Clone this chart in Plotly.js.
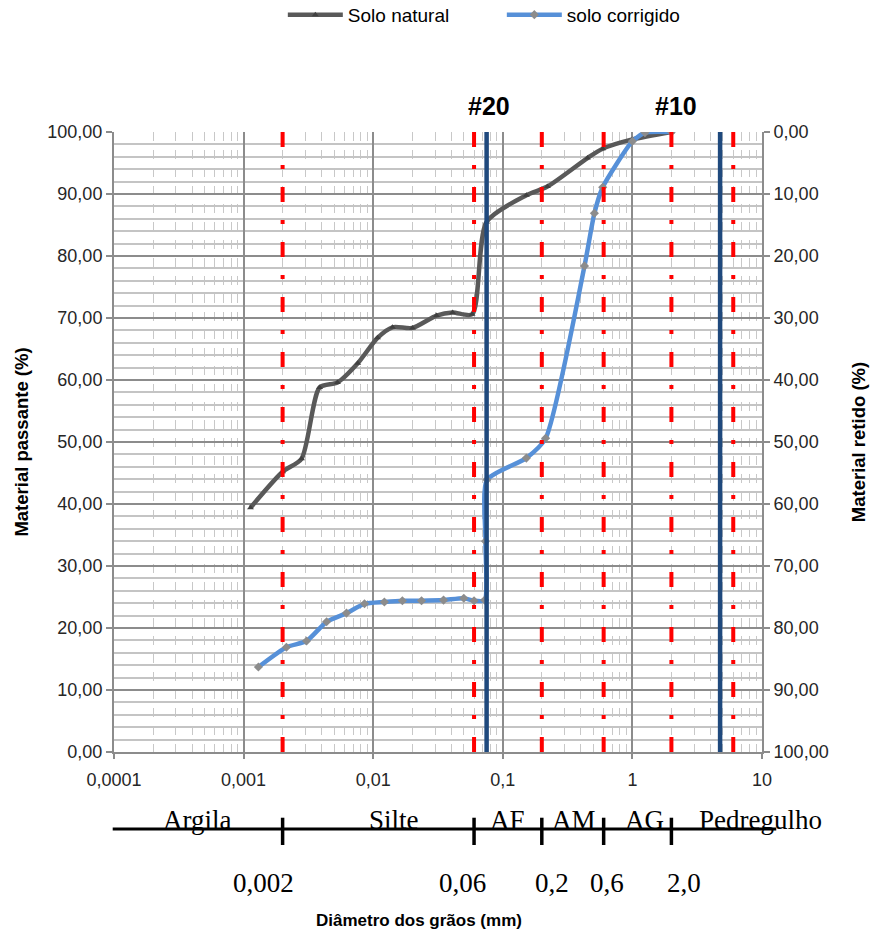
<!DOCTYPE html>
<html>
<head>
<meta charset="utf-8">
<script src="https://cdn.plot.ly/plotly-3.0.1.min.js"></script>
<style>
html,body{margin:0;padding:0;background:#fff;}
#chart{width:876px;height:934px;}
</style>
</head>
<body>
<div id="chart"></div>
<script>
// ---- data ----
const natX = [0.00113, 0.002, 0.0028, 0.00386, 0.0053, 0.0076, 0.0108, 0.0141, 0.0201, 0.0308, 0.041, 0.058, 0.075, 0.152, 0.221, 0.45, 0.59, 1.0, 2.0];
const natY = [39.4, 45.2, 47.3, 58.8, 59.6, 62.7, 66.8, 68.5, 68.4, 70.4, 70.9, 70.6, 85.5, 89.8, 91.2, 95.8, 97.3, 98.8, 100.0];

const corX = [0.0013, 0.00214, 0.00306, 0.00437, 0.00622, 0.00857, 0.0122, 0.0168, 0.0236, 0.0349, 0.050, 0.060, 0.0725, 0.0735, 0.0755, 0.152, 0.214, 0.427, 0.509, 0.59, 1.0, 1.25, 2.0];
const corY = [13.7, 16.9, 17.9, 21.0, 22.4, 23.9, 24.2, 24.4, 24.4, 24.5, 24.8, 24.4, 24.5, 34.0, 43.9, 47.4, 50.6, 78.4, 86.9, 91.1, 98.5, 99.9, 100.0];

const seriesNames = ["Solo natural", "solo corrigido"];

const xTickVals = [0.0001, 0.001, 0.01, 0.1, 1, 10];
const xTickText = ["0,0001", "0,001", "0,01", "0,1", "1", "10"];

const classBounds = [0.002, 0.06, 0.2, 0.6, 2.0];
const classBoundText = ["0,002", "0,06", "0,2", "0,6", "2,0"];
const redLines = [0.002, 0.06, 0.2, 0.6, 2.0, 6.0];
const sieveLines = [0.075, 4.75];
const sieveLabelX = [0.075, 2.0];
const sieveLabels = ["#20", "#10"];
const classNames = ["Argila", "Silte", "AF", "AM", "AG", "Pedregulho"];

// ---- layout helpers (positions only) ----
const classLabelLogX = [-3.356, -1.836, -0.964, -0.447, 0.093, 0.988];
const boundTextShift = [-19, -12, 10, 3, 13];

const minorX = [];
for (let e = -4; e < 1; e++) for (let d = 2; d <= 9; d++) minorX.push(d * Math.pow(10, e));

const traces = [
  {
    x: natX, y: natY, name: seriesNames[0], type: 'scatter', mode: 'lines+markers',
    line: {color: '#595959', width: 4.5, shape: 'spline', smoothing: 0.7},
    marker: {symbol: 'triangle-up', size: 6, color: '#404040'}
  },
  {
    x: corX, y: corY, name: seriesNames[1], type: 'scatter', mode: 'lines+markers',
    line: {color: '#5690D8', width: 4.5, shape: 'spline', smoothing: 0.6},
    marker: {symbol: 'diamond', size: 7, color: '#8c8c8c'}
  },
  {x: [null], y: [null], yaxis: 'y2', showlegend: false, hoverinfo: 'skip', mode: 'lines'}
];

const shapes = [];
redLines.forEach(v => shapes.push({
  type: 'line', xref: 'x', yref: 'y', x0: v, x1: v, y0: 100, y1: 0,
  line: {color: '#ff0000', width: 4, dash: '15px,18px,4px,18px'}, layer: 'above'
}));
sieveLines.forEach(v => shapes.push({
  type: 'line', xref: 'x', yref: 'y', x0: v, x1: v, y0: 0, y1: 100,
  line: {color: '#1F497D', width: 4.5}, layer: 'above'
}));
// classification bar
shapes.push({type: 'line', xref: 'paper', yref: 'paper', x0: -0.002, x1: 1.022, y0: -0.124, y1: -0.124,
  line: {color: '#000', width: 3}});
classBounds.forEach(v => shapes.push({
  type: 'line', xref: 'x', yref: 'paper', x0: v, x1: v, y0: -0.106, y1: -0.150,
  line: {color: '#000', width: 3.5}
}));

const annotations = [];
sieveLabels.forEach((t, i) => annotations.push({
  text: '<b>' + t + '</b>', xref: 'x', yref: 'paper', x: Math.log10(sieveLabelX[i]), y: 1.042,
  xshift: i === 1 ? 5 : 2, showarrow: false, yanchor: 'middle',
  font: {family: 'Liberation Sans, Arial, sans-serif', size: 25, color: '#000'}
}));
classNames.forEach((t, i) => annotations.push({
  text: t, xref: 'x', yref: 'paper', x: classLabelLogX[i], y: -0.11, showarrow: false,
  yanchor: 'middle', font: {family: 'Liberation Serif, Times New Roman, serif', size: 27, color: '#000'}
}));
classBoundText.forEach((t, i) => annotations.push({
  text: t, xref: 'x', yref: 'paper', x: Math.log10(classBounds[i]), y: -0.211, xshift: boundTextShift[i],
  showarrow: false, yanchor: 'middle',
  font: {family: 'Liberation Serif, Times New Roman, serif', size: 27, color: '#000'}
}));
annotations.push({
  text: '<b>Diâmetro dos grãos (mm)</b>', xref: 'paper', yref: 'paper', x: 0.471, y: -0.271,
  showarrow: false, yanchor: 'middle',
  font: {family: 'Liberation Sans, Arial, sans-serif', size: 17, color: '#000'}
});

const tickFont = {family: 'Liberation Sans, Arial, sans-serif', size: 18, color: '#262626'};
const titleFont = {family: 'Liberation Sans, Arial, sans-serif', size: 18.5, color: '#000'};

const layout = {
  width: 876, height: 934,
  margin: {l: 114, r: 114, t: 132, b: 182, pad: 0, autoexpand: false},
  paper_bgcolor: '#fff', plot_bgcolor: '#fff',
  separators: ',.',
  showlegend: true,
  legend: {
    orientation: 'h', x: 0.5985, xanchor: 'center', y: 1.189, yanchor: 'middle',
    itemwidth: 55, entrywidth: 149, entrywidthmode: 'pixels',
    font: {family: 'Liberation Sans, Arial, sans-serif', size: 19, color: '#000'},
    bgcolor: 'rgba(0,0,0,0)', tracegroupgap: 0
  },
  xaxis: {
    type: 'log', range: [-4, 1], tickvals: xTickVals, ticktext: xTickText,
    tickfont: tickFont, showgrid: true, gridcolor: '#8c8c8c', gridwidth: 2,
    showline: true, linecolor: '#8c8c8c', linewidth: 2,
    ticks: 'outside', ticklen: 5, tickcolor: '#8c8c8c', tickwidth: 2, ticklabelstandoff: 5,
    zeroline: false,
    minor: {tickvals: minorX, showgrid: true, gridcolor: '#c8c8c8', gridwidth: 1, griddash: 'dash', ticks: ''}
  },
  yaxis: {
    range: [0, 100], dtick: 10, tick0: 0, tickformat: '.2f', tickfont: tickFont,
    showgrid: true, gridcolor: '#8c8c8c', gridwidth: 2, zeroline: false,
    showline: true, linecolor: '#8c8c8c', linewidth: 2,
    ticks: 'outside', ticklen: 6, tickcolor: '#8c8c8c', tickwidth: 2,
    minor: {dtick: 2, showgrid: true, gridcolor: '#c4c4c4', gridwidth: 1.5, ticks: ''},
    title: {text: '<b>Material passante (%)</b>', font: titleFont, standoff: 14}
  },
  yaxis2: {
    overlaying: 'y', side: 'right', range: [100, 0], dtick: 10, tick0: 0, tickformat: '.2f',
    tickfont: tickFont, showgrid: false, zeroline: false,
    showline: true, linecolor: '#8c8c8c', linewidth: 2,
    ticks: 'outside', ticklen: 6, tickcolor: '#8c8c8c', tickwidth: 2,
    title: {text: '<b>Material retido (%)</b>', font: titleFont, standoff: 24}
  },
  shapes: shapes,
  annotations: annotations
};

Plotly.newPlot('chart', traces, layout, {displayModeBar: false, responsive: false});
</script>
</body>
</html>
